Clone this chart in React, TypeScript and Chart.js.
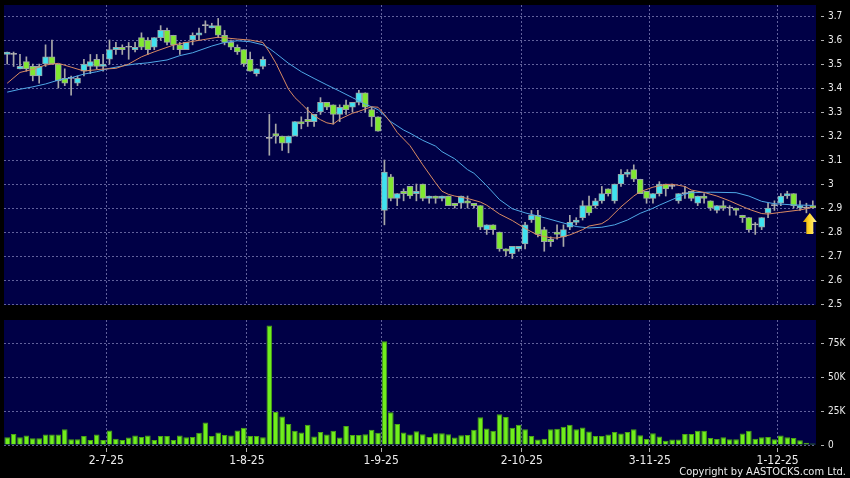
import React, { useEffect, useRef } from 'react';
import { Chart, registerables } from 'chart.js';

Chart.register(...registerables);

// ---- data ----
const DATES = [
  '9-6-25','10-6-25','11-6-25','12-6-25','13-6-25','16-6-25','17-6-25','18-6-25','19-6-25','20-6-25',
  '23-6-25','24-6-25','25-6-25','26-6-25','27-6-25','30-6-25',
  '2-7-25','3-7-25','4-7-25','7-7-25','8-7-25','9-7-25','10-7-25','11-7-25','14-7-25','15-7-25',
  '16-7-25','17-7-25','18-7-25','21-7-25','22-7-25','23-7-25','24-7-25','25-7-25','28-7-25','29-7-25',
  '30-7-25','31-7-25',
  '1-8-25','4-8-25','5-8-25','6-8-25','7-8-25','8-8-25','11-8-25','12-8-25','13-8-25','14-8-25',
  '15-8-25','18-8-25','19-8-25','20-8-25','21-8-25','22-8-25','25-8-25','26-8-25','27-8-25','28-8-25','29-8-25',
  '1-9-25','2-9-25','3-9-25','4-9-25','5-9-25','8-9-25','9-9-25','10-9-25','11-9-25','12-9-25',
  '15-9-25','16-9-25','17-9-25','18-9-25','19-9-25','22-9-25','23-9-25','24-9-25','25-9-25','26-9-25',
  '29-9-25','30-9-25',
  '2-10-25','3-10-25','6-10-25','8-10-25','9-10-25','10-10-25','13-10-25','14-10-25','15-10-25','16-10-25',
  '17-10-25','20-10-25','21-10-25','22-10-25','23-10-25','24-10-25','27-10-25','28-10-25','30-10-25','31-10-25',
  '3-11-25','4-11-25','5-11-25','6-11-25','7-11-25','10-11-25','11-11-25','12-11-25','13-11-25','14-11-25',
  '17-11-25','18-11-25','19-11-25','20-11-25','21-11-25','24-11-25','25-11-25','26-11-25','27-11-25','28-11-25',
  '1-12-25','2-12-25','3-12-25','4-12-25','5-12-25','8-12-25',
];

const OPEN = [
  3.54,3.54,3.48,3.51,3.49,3.45,3.50,3.53,3.50,3.44,
  3.44,3.42,3.47,3.49,3.52,3.49,3.52,3.56,3.57,3.57,
  3.56,3.61,3.60,3.57,3.61,3.64,3.62,3.58,3.56,3.60,
  3.62,3.66,3.65,3.66,3.62,3.59,3.57,3.56,3.52,3.46,
  3.49,3.19,3.21,3.20,3.17,3.20,3.26,3.27,3.26,3.30,
  3.34,3.33,3.29,3.33,3.32,3.34,3.38,3.31,3.28,2.89,
  3.03,2.94,2.97,2.99,2.96,3.00,2.94,2.95,2.94,2.95,
  2.92,2.92,2.93,2.92,2.91,2.81,2.83,2.80,2.73,2.71,
  2.73,2.75,2.85,2.87,2.81,2.77,2.80,2.78,2.82,2.84,
  2.86,2.91,2.91,2.93,2.98,2.93,3.00,3.04,3.06,3.02,
  2.97,2.94,2.96,3.00,2.99,2.93,2.96,2.97,2.92,2.95,
  2.93,2.89,2.91,2.90,2.90,2.87,2.86,2.83,2.82,2.88,
  2.91,2.92,2.95,2.96,2.90,2.90,2.91,
];
const HIGH = [
  3.55,3.55,3.54,3.53,3.50,3.50,3.58,3.60,3.50,3.48,
  3.45,3.45,3.52,3.54,3.54,3.54,3.60,3.59,3.58,3.59,
  3.59,3.63,3.61,3.61,3.66,3.65,3.62,3.59,3.59,3.63,
  3.65,3.68,3.67,3.69,3.64,3.60,3.58,3.56,3.55,3.48,
  3.53,3.29,3.25,3.20,3.20,3.26,3.28,3.32,3.29,3.36,
  3.34,3.33,3.33,3.35,3.34,3.39,3.38,3.32,3.28,3.10,
  3.04,2.96,2.98,2.99,3.00,3.00,2.95,2.95,2.95,2.95,
  2.92,2.95,2.95,2.92,2.91,2.83,2.83,2.80,2.73,2.74,
  2.74,2.84,2.89,2.89,2.82,2.78,2.83,2.83,2.87,2.86,
  2.93,2.95,2.94,2.99,2.98,3.00,3.06,3.06,3.08,3.02,
  2.97,2.96,3.01,3.00,3.00,2.96,2.99,2.97,2.95,2.96,
  2.93,2.91,2.93,2.91,2.90,2.87,2.86,2.84,2.86,2.92,
  2.93,2.96,2.97,2.96,2.93,2.92,2.93,
];
const LOW = [
  3.50,3.49,3.48,3.47,3.43,3.42,3.49,3.50,3.40,3.41,
  3.37,3.41,3.45,3.46,3.48,3.47,3.50,3.54,3.54,3.52,
  3.55,3.56,3.54,3.56,3.60,3.58,3.56,3.54,3.56,3.58,
  3.60,3.63,3.65,3.61,3.58,3.56,3.54,3.49,3.47,3.45,
  3.48,3.12,3.17,3.14,3.13,3.20,3.23,3.24,3.24,3.29,
  3.31,3.25,3.26,3.29,3.30,3.33,3.30,3.24,3.22,2.83,
  2.93,2.91,2.93,2.94,2.93,2.93,2.92,2.92,2.93,2.91,
  2.90,2.90,2.90,2.90,2.81,2.79,2.79,2.72,2.70,2.69,
  2.72,2.73,2.84,2.78,2.72,2.74,2.77,2.74,2.81,2.83,
  2.85,2.87,2.90,2.92,2.95,2.92,2.99,3.03,3.01,2.96,
  2.92,2.92,2.95,2.95,2.98,2.92,2.94,2.93,2.91,2.92,
  2.89,2.88,2.89,2.87,2.87,2.84,2.80,2.79,2.81,2.86,
  2.89,2.91,2.94,2.90,2.89,2.88,2.90,
];
const CLOSE = [
  3.55,3.54,3.49,3.48,3.45,3.49,3.53,3.50,3.43,3.42,
  3.44,3.44,3.50,3.51,3.49,3.50,3.56,3.57,3.56,3.57,
  3.57,3.57,3.56,3.61,3.64,3.59,3.58,3.56,3.59,3.62,
  3.63,3.66,3.66,3.62,3.59,3.57,3.55,3.50,3.47,3.48,
  3.52,3.19,3.20,3.17,3.20,3.26,3.25,3.26,3.29,3.34,
  3.32,3.29,3.32,3.31,3.34,3.38,3.32,3.28,3.22,3.05,
  2.94,2.96,2.96,2.95,2.97,2.94,2.95,2.94,2.95,2.91,
  2.91,2.95,2.92,2.91,2.82,2.83,2.81,2.73,2.72,2.74,
  2.74,2.83,2.87,2.79,2.76,2.76,2.79,2.81,2.84,2.85,
  2.91,2.88,2.93,2.96,2.96,3.00,3.04,3.05,3.02,2.96,
  2.94,2.96,3.00,2.98,2.99,2.96,2.96,2.94,2.95,2.94,
  2.90,2.91,2.90,2.90,2.89,2.86,2.81,2.83,2.86,2.90,
  2.91,2.95,2.96,2.91,2.91,2.90,2.90,
];
const VOLUME = [
  5700,8200,5700,7000,5000,5000,7700,7700,7700,11700,
  4200,4200,6700,3700,7700,3700,10700,4700,3700,5500,
  7000,5900,7000,3700,6700,6700,3700,7000,5700,5900,
  9000,16700,6700,9200,7400,7000,10700,12700,6700,6700,
  5700,88500,24500,21000,15500,10500,9200,15000,6200,9700,
  7700,10500,5500,14000,7400,7400,8000,11200,9000,76700,
  24200,15500,9200,7700,10200,8000,5900,8700,8700,8000,
  5500,7200,7400,11200,20500,12200,10500,22700,20700,12700,
  15000,11700,6700,4000,4700,11700,12000,13500,15000,11700,
  12900,10000,6700,6700,7700,9700,8500,9700,11700,7200,
  4500,8700,6200,3200,4000,4000,8200,8200,10500,10500,
  5200,4500,5700,4200,4200,8500,10500,4700,5700,5900,
  4200,7000,5700,5200,3500,1700,1200,
];
// moving averages, read at sample positions (index into DATES, value)
const MA10_IDX = [0,2,4,6,8,10,12,15,17,19,21,23,26,28,31,33,36,38,40,41,42,43,44,45,46,47,48,49,50,51,52,54,55,57,58,59,60,61,63,65,67,68,69,70,72,74,75,77,79,81,83,85,86,88,90,91,93,94,96,98,99,101,103,104,106,107,109,111,113,114,116,118,119,121,124,126];
const MA10_VAL = [3.42,3.465,3.478,3.496,3.503,3.487,3.471,3.479,3.482,3.5,3.53,3.551,3.579,3.59,3.603,3.612,3.604,3.6,3.59,3.55,3.505,3.45,3.395,3.36,3.335,3.308,3.285,3.268,3.255,3.25,3.27,3.295,3.303,3.322,3.32,3.29,3.255,3.215,3.16,3.08,3.005,2.97,2.957,2.95,2.94,2.925,2.912,2.875,2.848,2.815,2.787,2.776,2.775,2.788,2.81,2.825,2.835,2.852,2.905,2.95,2.968,2.987,2.998,2.999,2.99,2.975,2.965,2.95,2.93,2.918,2.895,2.877,2.875,2.882,2.892,2.903];
const MA20_IDX = [0,2,4,6,8,10,12,14,16,18,20,22,25,27,29,32,34,36,38,40,41,42,44,46,48,50,52,54,56,58,60,62,63,65,67,68,70,72,73,75,77,79,81,84,86,89,91,93,95,97,99,101,102,104,106,107,110,114,116,118,120,123,126];
const MA20_VAL = [3.383,3.395,3.405,3.417,3.433,3.443,3.458,3.468,3.482,3.492,3.5,3.505,3.517,3.535,3.547,3.575,3.59,3.597,3.593,3.58,3.565,3.545,3.503,3.468,3.44,3.413,3.387,3.36,3.333,3.31,3.26,3.225,3.212,3.182,3.158,3.135,3.105,3.06,3.045,2.993,2.935,2.897,2.88,2.86,2.845,2.823,2.817,2.82,2.83,2.85,2.878,2.899,2.912,2.935,2.958,2.964,2.966,2.964,2.95,2.928,2.918,2.913,2.911];

const PRICE_TICKS = [2.5,2.6,2.7,2.8,2.9,3.0,3.1,3.2,3.3,3.4,3.5,3.6,3.7];
const VOLUME_TICKS = [0,25000,50000,75000];

// ---- styles ----
const FONT = '"DejaVu Sans Condensed", "DejaVu Sans", sans-serif';
const PLOT_BG = '#000046';
const GRID = 'rgba(130,130,185,0.75)';
const TEXT = '#ececec';
const UP = '#3fe2f0';
const DOWN = '#80e830';
const FLAT = '#b8b8b8';
const EDGE = '#9aa4a4';
const WICK = '#a8a8a8';
const VOL_FILL = '#70ee1c';
const VOL_EDGE = '#4aa414';
const MA10_COLOR = '#d98a62';
const MA20_COLOR = '#4fa8e6';

const monthOf = (d: string) => d.split('-')[1];
const isMonthStart = (i: number) => i > 0 && i < DATES.length && monthOf(DATES[i]) !== monthOf(DATES[i - 1]);

const plotBg = {
  id: 'plotBg',
  beforeDraw(chart: any) {
    const { ctx, chartArea } = chart;
    ctx.save();
    ctx.fillStyle = PLOT_BG;
    ctx.fillRect(chartArea.left, chartArea.top, chartArea.right - chartArea.left, chartArea.bottom - chartArea.top);
    ctx.restore();
  },
};

const arrowPlugin = {
  id: 'lastArrow',
  afterDatasetsDraw(chart: any) {
    const i = DATES.length - 1;
    const x = chart.scales.x.getPixelForValue(i) - 3;
    const tip = chart.scales.y.getPixelForValue(LOW[i]) + 5;
    const ctx = chart.ctx;
    ctx.save();
    const g = ctx.createLinearGradient(x - 7, 0, x + 7, 0);
    g.addColorStop(0, '#d89a00');
    g.addColorStop(0.45, '#ffd726');
    g.addColorStop(1, '#fff3a0');
    ctx.fillStyle = g;
    ctx.beginPath();
    ctx.moveTo(x, tip);
    ctx.lineTo(x + 7, tip + 9);
    ctx.lineTo(x + 3.5, tip + 9);
    ctx.lineTo(x + 3.5, tip + 21);
    ctx.lineTo(x - 3.5, tip + 21);
    ctx.lineTo(x - 3.5, tip + 9);
    ctx.lineTo(x - 7, tip + 9);
    ctx.closePath();
    ctx.fill();
    ctx.restore();
  },
};

const copyrightPlugin = {
  id: 'copyright',
  afterDraw(chart: any) {
    const ctx = chart.ctx;
    ctx.save();
    ctx.font = `11px ${FONT}`;
    ctx.fillStyle = TEXT;
    ctx.textAlign = 'right';
    ctx.textBaseline = 'alphabetic';
    ctx.fillText('Copyright by AASTOCKS.com Ltd.', chart.width - 4, chart.height - 3);
    ctx.restore();
  },
};

const xGridColor = (c: any) => (isMonthStart(c.index) ? GRID : 'rgba(0,0,0,0)');
const tickMarkColor = (c: any) => (isMonthStart(c.index) ? '#b0b0b0' : 'rgba(0,0,0,0)');
const noPad = (s: any) => { s.paddingTop = 0; s.paddingBottom = 0; s.paddingLeft = 0; s.paddingRight = 0; };

export default function App() {
  const priceRef = useRef<HTMLCanvasElement>(null);
  const volRef = useRef<HTMLCanvasElement>(null);

  useEffect(() => {
    const bodyColor = (c: any) => {
      const i = c.dataIndex;
      return CLOSE[i] > OPEN[i] ? UP : CLOSE[i] < OPEN[i] ? DOWN : FLAT;
    };
    const price = new Chart(priceRef.current as HTMLCanvasElement, {
      type: 'bar',
      data: {
        labels: DATES,
        datasets: [
          {
            type: 'line',
            label: 'MA10',
            data: MA10_IDX.map((k, j) => ({ x: DATES[k], y: MA10_VAL[j] })) as any,
            borderColor: MA10_COLOR,
            borderWidth: 1,
            pointRadius: 0,
            spanGaps: true,
            tension: 0,
            order: 0,
          } as any,
          {
            type: 'line',
            label: 'MA20',
            data: MA20_IDX.map((k, j) => ({ x: DATES[k], y: MA20_VAL[j] })) as any,
            borderColor: MA20_COLOR,
            borderWidth: 1,
            pointRadius: 0,
            spanGaps: true,
            tension: 0,
            order: 0,
          } as any,
          {
            label: 'body',
            data: OPEN.map((o, i) => [o, CLOSE[i]]) as any,
            backgroundColor: bodyColor,
            borderColor: (c: any) => (CLOSE[c.dataIndex] === OPEN[c.dataIndex] ? FLAT : EDGE),
            borderWidth: 1,
            borderSkipped: false,
            barThickness: 6,
            minBarLength: 1,
            grouped: false,
            order: 1,
          } as any,
          {
            label: 'wick',
            data: LOW.map((l, i) => [l, HIGH[i]]) as any,
            backgroundColor: WICK,
            barThickness: 1,
            grouped: false,
            order: 2,
          } as any,
        ],
      },
      options: {
        animation: false,
        responsive: true,
        maintainAspectRatio: false,
        layout: { padding: { left: 4, top: 5, right: 0, bottom: 5 } },
        plugins: { legend: { display: false }, tooltip: { enabled: false } },
        scales: {
          x: {
            type: 'category',
            offset: true,
            grid: { offset: true, color: xGridColor, drawTicks: false, lineWidth: 1 },
            border: { display: false, dash: [2, 2] },
            ticks: { display: false, autoSkip: false },
            afterFit: (s: any) => { s.height = 0; noPad(s); },
          },
          y: {
            type: 'linear',
            position: 'right',
            min: 2.496,
            max: 3.746,
            afterBuildTicks: (s: any) => { s.ticks = PRICE_TICKS.map((v) => ({ value: v })); },
            afterFit: (s: any) => { s.width = 34; noPad(s); },
            grid: { color: GRID, tickColor: '#b0b0b0', tickLength: 8, tickBorderDash: [0, 5, 3, 30] },
            border: { display: false, dash: [2, 2] },
            ticks: {
              color: TEXT,
              padding: 4,
              font: { family: FONT, size: 10 },
              callback: (v: any) => String(Math.round(Number(v) * 10) / 10),
            },
          },
        },
      } as any,
      plugins: [plotBg, arrowPlugin],
    });

    const vol = new Chart(volRef.current as HTMLCanvasElement, {
      type: 'bar',
      data: {
        labels: DATES,
        datasets: [
          {
            label: 'Volume',
            data: VOLUME,
            backgroundColor: VOL_FILL,
            borderColor: VOL_EDGE,
            borderWidth: 1,
            barPercentage: 0.88,
            categoryPercentage: 1,
          },
        ],
      },
      options: {
        animation: false,
        responsive: true,
        maintainAspectRatio: false,
        layout: { padding: { left: 4, top: 8, right: 0, bottom: 0 } },
        plugins: { legend: { display: false }, tooltip: { enabled: false } },
        scales: {
          x: {
            type: 'category',
            offset: true,
            grid: { offset: true, color: xGridColor, tickColor: tickMarkColor, tickLength: 7, tickBorderDash: [0, 3, 4, 30] },
            border: { display: false, dash: [2, 2] },
            ticks: {
              autoSkip: false,
              maxRotation: 0,
              minRotation: 0,
              color: TEXT,
              padding: 2,
              labelOffset: -3.2,
              font: { family: FONT, size: 12 },
              callback: (_v: any, i: number) => (isMonthStart(i) ? DATES[i] : ''),
            },
            afterFit: (s: any) => { s.height = 33; noPad(s); },
          },
          y: {
            type: 'linear',
            position: 'right',
            min: 0,
            max: 92500,
            afterBuildTicks: (s: any) => { s.ticks = VOLUME_TICKS.map((v) => ({ value: v })); },
            afterFit: (s: any) => { s.width = 34; noPad(s); },
            grid: { color: GRID, tickColor: '#b0b0b0', tickLength: 8, tickBorderDash: [0, 5, 3, 30] },
            border: { display: false, dash: [2, 2] },
            ticks: {
              color: TEXT,
              padding: 4,
              font: { family: FONT, size: 10 },
              callback: (v: any) => (Number(v) === 0 ? '0' : `${Math.round(Number(v) / 1000)}K`),
            },
          },
        },
      } as any,
      plugins: [plotBg, copyrightPlugin],
    });

    return () => {
      price.destroy();
      vol.destroy();
    };
  }, []);

  return (
    <div style={{ position: 'fixed', left: 0, top: 0, width: 850, height: 478, background: '#000' }}>
      <div style={{ position: 'absolute', left: 0, top: 0, width: 850, height: 310 }}>
        <canvas ref={priceRef} />
      </div>
      <div style={{ position: 'absolute', left: 0, top: 312, width: 850, height: 166 }}>
        <canvas ref={volRef} />
      </div>
    </div>
  );
}
